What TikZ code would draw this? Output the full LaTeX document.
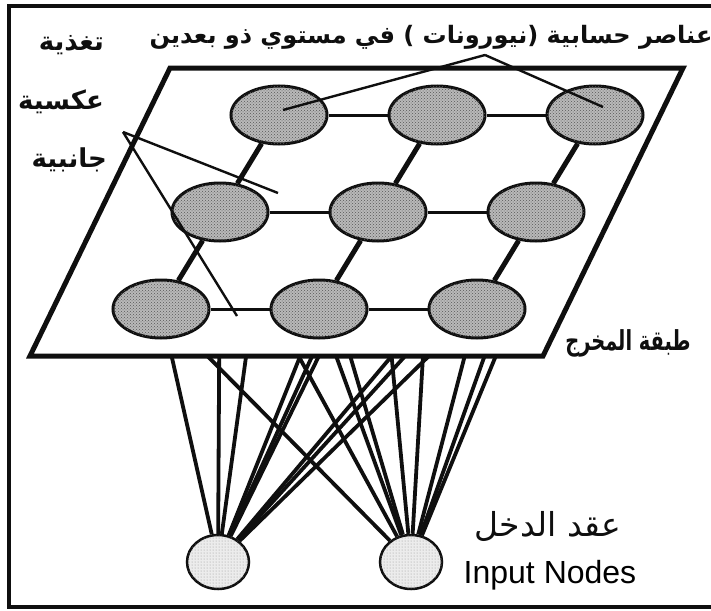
\documentclass[tikz,border=0pt]{standalone}
\usepackage{fontspec}
\usepackage{tikz}
\usetikzlibrary{positioning,calc,shapes.geometric,patterns}
\setmainfont{Liberation Sans}
\newfontfamily\arabicfont[Script=Arabic]{DejaVu Sans}
\TeXXeTstate=1
\definecolor{cInk}{RGB}{ 15, 15, 15}
\definecolor{cDot}{RGB}{185,185,185}
\definecolor{cDotLt}{RGB}{236,236,236}
\tikzset{
  cell/.style   ={ellipse,draw=cInk,fill=cDot,line width=3pt,
                  postaction={pattern=crosshatch dots,pattern color=cInk!70},
                  minimum width=96pt,minimum height=58pt,inner sep=0pt},
  innode/.style ={ellipse,draw=cInk,fill=cDotLt,line width=2.5pt,
                  postaction={pattern=dots,pattern color=cInk!45},
                  minimum width=62pt,minimum height=54pt,inner sep=0pt},
  wire/.style   ={draw=cInk,line width=3.8pt},
  row/.style    ={draw=cInk,line width=3pt},
  rung/.style   ={draw=cInk,line width=5pt},
  ptr/.style    ={draw=cInk,line width=2.4pt},
  arlbl/.style  ={font=\arabicfont\bfseries,text=cInk,inner sep=0pt},
}

\begin{document}
\begin{tikzpicture}[x=1pt,y=-1pt]
\useasboundingbox (0,0) rectangle (711,610);

%% ================= input layer ==========================================
\node[innode] (inL) at (218,562) {};
\node[innode] (inR) at (411,562) {};

%% ================= grid centres (sheared 3x3) ===========================
% column step 158, row step 97 down and 59 to the left
\foreach \i in {0,1,2}{
  \foreach \j in {0,1,2}{
    \coordinate (c\i\j) at ({279+158*\i-59*\j},{115+97*\j});}}

% every input feeds every cell; the plane hides the upper part
\foreach \k in {inL,inR}{
  \foreach \i in {0,1,2}{
    \foreach \j in {0,1,2}{
      \draw[wire] (\k) -- (c\i\j);}}}

%% ================= output plane =========================================
\filldraw[draw=cInk,fill=white,line width=5pt,line join=miter]
  (170,68) -- (683,68) -- (543,356) -- (30,356) -- cycle;

\foreach \i in {0,1,2}{
  \foreach \j in {0,1,2}{
    \node[cell] (n\i\j) at (c\i\j) {};}}

% lateral links inside each row, thick rungs between rows
\foreach \j in {0,1,2}{
  \draw[row] (n0\j) -- (n1\j);
  \draw[row] (n1\j) -- (n2\j);}
\foreach \i in {0,1,2}{
  \draw[rung] (n\i0) -- (n\i1);
  \draw[rung] (n\i1) -- (n\i2);}

%% ================= labels ===============================================
\node[arlbl,font=\arabicfont\bfseries\fontsize{24}{28}\selectfont] (ttl) at (431,37)
  {\beginR عناصر حسابية (نيورونات ) في مستوي ذو بعدين\endR};
\node[arlbl,anchor=east,font=\arabicfont\bfseries\fontsize{26}{30}\selectfont] (fb1) at (104,45)  {\beginR تغذية\endR};
\node[arlbl,anchor=east,font=\arabicfont\bfseries\fontsize{26}{30}\selectfont] (fb2) at (104,102) {\beginR عكسية\endR};
\node[arlbl,anchor=east,font=\arabicfont\bfseries\fontsize{26}{30}\selectfont] (fb3) at (107,160) {\beginR جانبية\endR};
\node[arlbl,font=\arabicfont\bfseries\fontsize{22}{26}\selectfont] (outl) at (628,343)
  {\scalebox{0.88}[1.25]{\beginR طبقة المخرج\endR}};
\node[arlbl,font=\arabicfont\fontsize{33}{36}\selectfont] (inl) at (548,526) {\beginR عقد الدخل\endR};
\node[font=\fontsize{32}{36}\selectfont,inner sep=0pt] (ineng) at (550,575) {Input Nodes};

%% ================= pointers =============================================
\coordinate (apx) at (485,55);
\coordinate (tipA) at (283,110);
\coordinate (tipB) at (603,107);
\draw[ptr] (apx) -- (tipA);
\draw[ptr] (apx) -- (tipB);

\coordinate (fbs) at (123,132);
\coordinate (tipC) at (278,193);
\coordinate (tipD) at (237,316);
\draw[ptr] (fbs) -- (tipC);
\draw[ptr] (fbs) -- (tipD);

%% ================= frame ================================================
\draw[draw=cInk,line width=3.5pt] (9,6) rectangle (716,607);

\end{tikzpicture}
\end{document}
